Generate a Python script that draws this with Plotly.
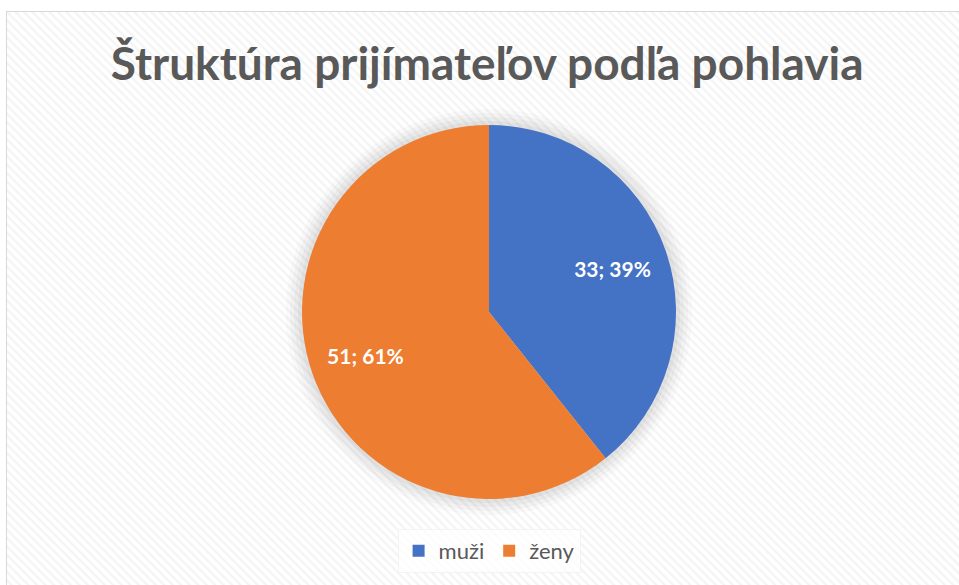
import plotly.graph_objects as go

# Data
categories = ["muži", "ženy"]
values = [33, 51]
colors = ["#4472C4", "#ED7D31"]
title_text = "Štruktúra prijímateľov podľa pohlavia"

W, H = 959, 585
cx, cy, r = 489, 312, 187

def dom(rad):
    return dict(x=[(cx - rad) / W, (cx + rad) / W],
                y=[(H - cy - rad) / H, (H - cy + rad) / H])

fig = go.Figure()

# patterned chart-area background with frame
fig.add_trace(go.Scatter(
    x=[0, 1, 1, 0, 0], y=[0, 0, 1, 1, 0],
    mode="lines", fill="toself",
    line=dict(color="#d9d9d9", width=2),
    fillcolor="white",
    fillpattern=dict(shape="\\", fgcolor="#e9e9e9", bgcolor="white",
                     size=6, solidity=0.4),
    hoverinfo="skip", showlegend=False,
    xaxis="x", yaxis="y",
))

# soft shadow under the pie
for extra, op in [(16, 0.04), (12, 0.05), (8, 0.06), (4, 0.08)]:
    fig.add_trace(go.Pie(
        values=[1], labels=["shadow"], domain=dom(r + extra),
        marker=dict(colors=["#7f7f7f"]), opacity=op,
        textinfo="none", hoverinfo="skip", showlegend=False, sort=False,
    ))

# main pie (no text)
fig.add_trace(go.Pie(
    labels=categories, values=values,
    marker=dict(colors=colors, line=dict(width=0)),
    sort=False, direction="clockwise", rotation=0,
    domain=dom(r),
    textinfo="none",
    hoverinfo="label+value+percent",
    showlegend=True,
))

# transparent ring carrying the data labels further out (like Excel)
fig.add_trace(go.Pie(
    labels=categories, values=values,
    marker=dict(colors=["rgba(0,0,0,0)"] * len(values), line=dict(width=0)),
    sort=False, direction="clockwise", rotation=0,
    domain=dom(r), hole=0.4,
    texttemplate="%{value}; %{percent:.0%}",
    textposition="inside", insidetextorientation="horizontal",
    textfont=dict(family="Lato, Calibri, sans-serif", size=21, color="white",
                  weight="bold"),
    hoverinfo="skip", showlegend=False,
))

fig.update_layout(
    width=W, height=H,
    margin=dict(l=0, r=0, t=0, b=0),
    paper_bgcolor="white", plot_bgcolor="rgba(0,0,0,0)",
    xaxis=dict(domain=[6 / W, 1], range=[0, 0.99], visible=False, fixedrange=True),
    yaxis=dict(domain=[0, (H - 11) / H], range=[0.01, 1], visible=False, fixedrange=True),
    title=dict(text=title_text, x=0.508, xanchor="center", y=(H - 64) / H,
               yanchor="middle",
               font=dict(family="Lato, Calibri, sans-serif", size=46,
                         color="#595959", weight="bold")),
    legend=dict(orientation="h", x=0.51, xanchor="center",
                y=(H - 551) / H, yanchor="middle",
                font=dict(family="Lato, Calibri, sans-serif", size=22,
                          color="#595959"),
                bgcolor="rgba(255,255,255,0.7)", bordercolor="#f3f3f3",
                borderwidth=1, itemwidth=30),
    showlegend=True,
)

fig.write_html("out.html", config={"displayModeBar": False},
               post_script="document.body.style.margin='0px';")
